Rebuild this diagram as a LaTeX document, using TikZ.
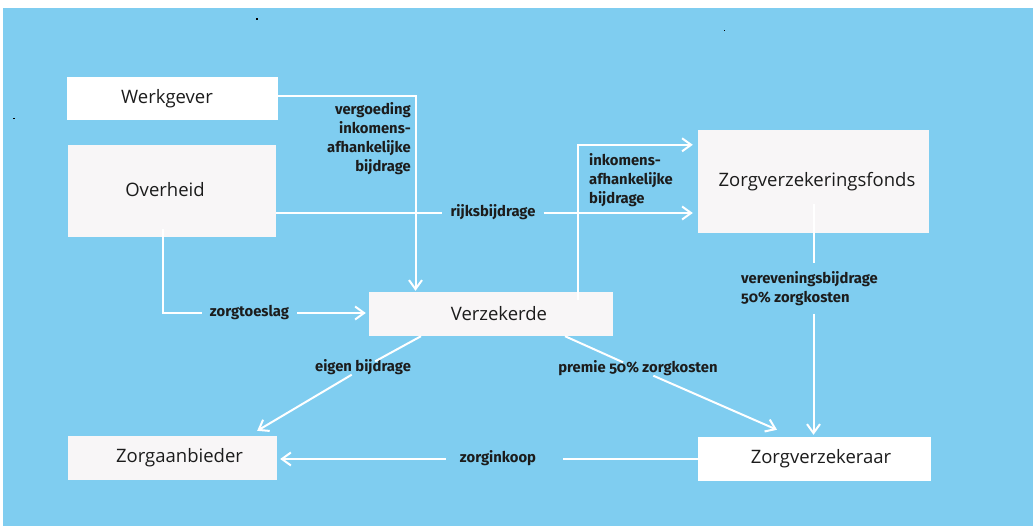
\documentclass[tikz,border=0pt]{standalone}
\usepackage{fontspec}
\setmainfont{Open Sans}
\newfontfamily\lblfont[Numbers=OldStyle]{Fira Sans}
\usetikzlibrary{arrows.meta,calc}
\definecolor{bgblue}{HTML}{7FCDF0}
\definecolor{offwhite}{HTML}{F8F6F7}
\definecolor{ink}{HTML}{1C1C1C}
\begin{document}
\begin{tikzpicture}[x=1pt,y=-1pt,
  box/.style={rectangle, inner sep=0pt, font=\fontsize{18.5}{20}\selectfont, text=ink},
  lbl/.style={font=\lblfont\bfseries\fontsize{14.8}{19}\selectfont, text=ink, inner sep=0pt},
  lbl1/.style={lbl, text height=10pt, text depth=3pt, inner xsep=8pt},
  flow/.style={draw=white, line width=2pt},
  tip/.style={-{Straight Barb[length=9pt,width=13pt]}}
]
\useasboundingbox (0,0) rectangle (1033,526);
\fill[white] (0,0) rectangle (1033,526);
\fill[bgblue] (3,8) rectangle (1033,526);
\fill[black] (256,18) rectangle (258,20);
\fill[black] (723.5,30.5) rectangle (724.5,31.5);
\fill[black] (13,118.5) rectangle (15,119.5);

% boxes
\node[box, fill=white, minimum width=211pt, minimum height=43pt] (werkgever) at (172.5,98.5) {\hspace*{-11pt}Werkgever};
\node[box, fill=offwhite, minimum width=208pt, minimum height=92pt] (overheid) at (172,191) {\hspace*{-14pt}\raisebox{3pt}{Overheid}};
\node[box, fill=offwhite, minimum width=231pt, minimum height=103pt] (fonds) at (813.5,181.5) {\hspace*{7pt}Zorgverzekeringsfonds};
\node[box, fill=offwhite, minimum width=244pt, minimum height=44pt] (verzekerde) at (491,314) {\hspace*{16pt}Verzekerde};
\node[box, fill=offwhite, minimum width=209pt, minimum height=44pt] (aanbieder) at (172.5,458) {\hspace*{14pt}Zorgaanbieder};
\node[box, fill=white, minimum width=233pt, minimum height=44pt] (verzekeraar) at (814.5,459) {\hspace*{13pt}Zorgverzekeraar};

% labels
\node[lbl, align=right, anchor=north east] (vergoeding) at (411,102) {vergoeding\\inkomens-\\afhankelijke\\bijdrage};
\node[lbl, align=left, anchor=north west] (inkomens) at (589,153) {inkomens-\\afhankelijke\\bijdrage};
\node[lbl1] (rijks) at (493,213) {rijksbijdrage};
\node[lbl1] (toeslag) at (249.5,313) {zorgtoeslag};
\node[lbl1] (eigen) at (363,368) {eigen bijdrage};
\node[lbl1] (premie) at (638,369) {premie 50\% zorgkosten};
\node[lbl1, inner xsep=14pt] (inkoop) at (498,459) {zorginkoop};
\node[lbl, align=left, anchor=north west, inner ysep=8pt] (vereven) at (741,263) {vereveningsbijdrage\\50\% zorgkosten};

% connectors
\draw[flow, tip, shorten >=1pt] ($(werkgever.east)+(0,-2.5)$) -| ($(verzekerde.north)+(-75.5,0)$);
\draw[flow] (overheid.east |- rijks) -- (rijks.west);
\draw[flow, tip, shorten >=5pt] (rijks.east) -- (fonds.west |- rijks);
\draw[flow, tip, shorten >=5pt] ($(verzekerde.north)+(87,8)$) |- ($(fonds.north west)+(0,15)$);
\draw[flow] ($(overheid.south west)+(95,-8)$) |- (toeslag.west);
\draw[flow, tip, shorten >=3pt] (toeslag.east) -- (verzekerde.west |- toeslag);
\draw[flow] ($(verzekerde.south)+(-70,0)$) -- (eigen);
\draw[flow, tip] (eigen) -- ($(aanbieder.north east)+(-20,-5)$);
\draw[flow] ($(verzekerde.south)+(74,0)$) -- (premie);
\draw[flow, tip] (premie) -- ($(verzekeraar.north)+(-37.5,-7)$);
\draw[flow] ($(fonds.south)+(0,-29)$) -- (fonds.south |- vereven.north);
\draw[flow, tip, shorten >=2pt] (fonds.south |- vereven.south) -- (verzekeraar.north -| fonds.south);
\draw[flow] (verzekeraar.west) -- ($(inkoop.east)+(13,0)$);
\draw[flow, tip, shorten >=3pt] (inkoop.west) -- (aanbieder.east |- inkoop);
\end{tikzpicture}
\end{document}
